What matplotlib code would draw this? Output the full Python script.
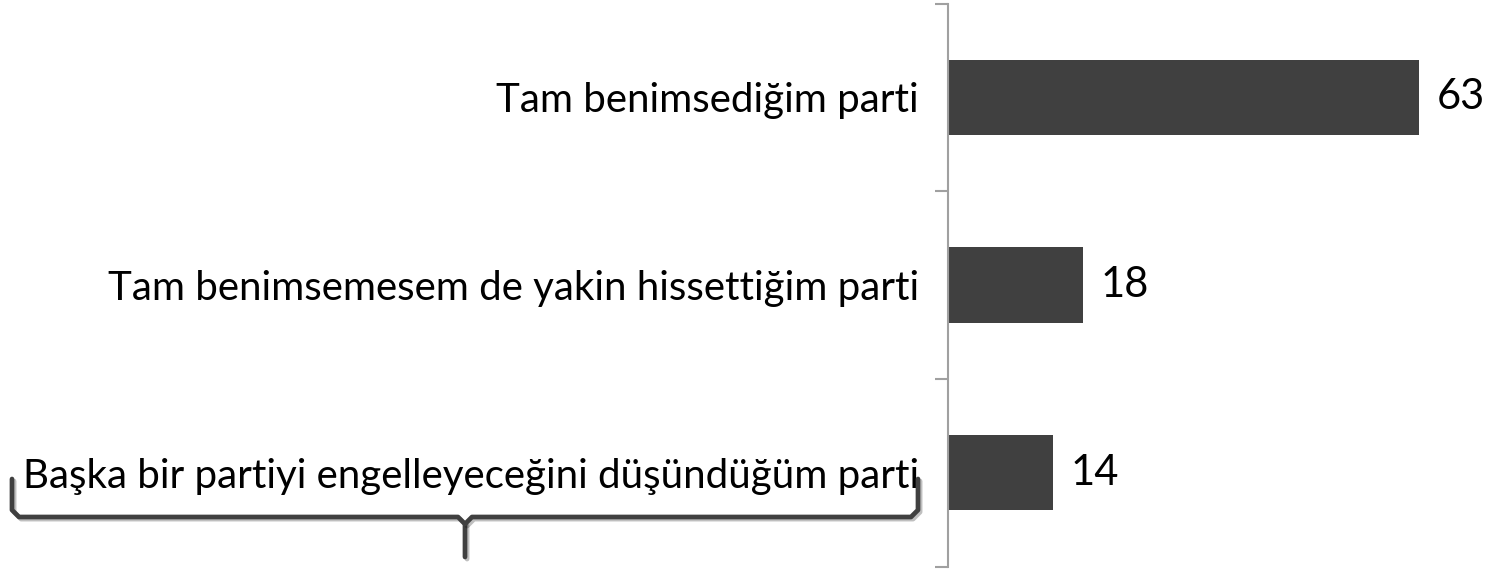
import matplotlib
matplotlib.use("Agg")
import matplotlib.pyplot as plt
from matplotlib.lines import Line2D
import matplotlib.patheffects as pe

categories = ["Tam benimsediğim parti",
              "Tam benimsemesem de yakin hissettiğim parti",
              "Başka bir partiyi engelleyeceğini düşündüğüm parti"]
values = [63, 18, 14]

W, H = 1493, 571
fig = plt.figure(figsize=(W / 100, H / 100), dpi=100)
plt.rcParams['font.family'] = ['Lato', 'DejaVu Sans']

ax_left = 948 / W
ax_bottom = 4.5 / H
ax_h = 563 / H
xmax = 72
ax_w = xmax * 7.476 / W
ax = fig.add_axes([ax_left, ax_bottom, ax_w, ax_h])

ypos = list(range(len(categories)))
ax.barh(ypos, values, height=0.4, color="#404040")
ax.set_ylim(len(categories) - 0.5, -0.5)
ax.set_xlim(0, xmax)

for s in ["top", "right", "bottom"]:
    ax.spines[s].set_visible(False)
ax.spines["left"].set_color("#a0a0a0")
ax.spines["left"].set_linewidth(1.5)
ax.set_xticks([])

ax.set_yticks(ypos)
ax.set_yticklabels(categories, fontsize=29, color="#000000")
ax.tick_params(axis="y", which="major", length=0, pad=21)
ax.set_yticks([y - 0.5 for y in ypos] + [len(categories) - 0.5], minor=True)
ax.tick_params(axis="y", which="minor", length=9.5, width=1.5, color="#a0a0a0")

for y, v in zip(ypos, values):
    ax.annotate(str(v), xy=(v, y), xytext=(13, 0), textcoords="offset points",
                ha="left", va="center", fontsize=30, color="#000000")

# curly brace under the third label (figure pixel coordinates)
def px(x, y):
    return x / W, 1 - y / H

pts = [(12, 479), (12, 510), (19, 517), (458, 517), (465, 524), (465, 557)]
pts2 = [(465, 524), (472, 517), (911, 517), (918, 510), (918, 479)]
for seg in (pts, pts2):
    xs, ys = zip(*[px(a, b) for a, b in seg])
    fig.add_artist(Line2D(xs, ys, color="#404040", linewidth=3.4,
                          solid_capstyle="round", solid_joinstyle="round",
                          transform=fig.transFigure,
                          path_effects=[pe.SimpleLineShadow(offset=(1.5, -1.5), alpha=0.25),
                                        pe.Normal()]))

fig.savefig("out.png", dpi=100)
